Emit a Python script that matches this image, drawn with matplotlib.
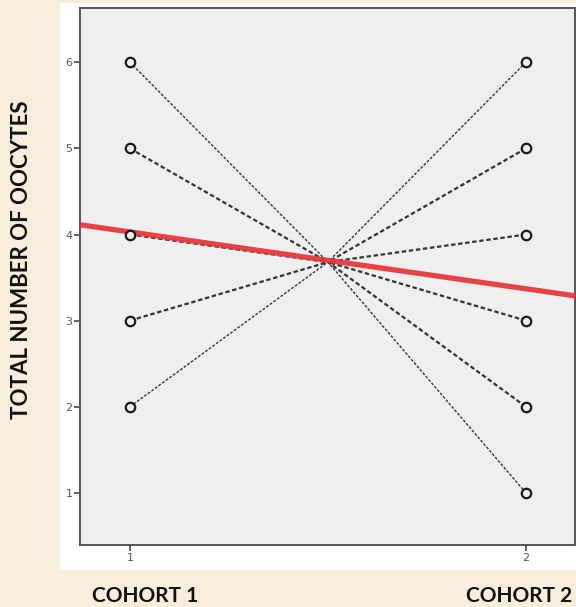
import matplotlib.pyplot as plt
from matplotlib.patches import Rectangle

# values
cohort1_vals = [6, 5, 4, 3, 2]
cohort1_weight = [1, 2, 2, 2, 1]
cohort2_vals = [6, 5, 4, 3, 2, 1]
cohort2_weight = [1, 2, 2, 2, 2, 1]
center = (1.5, 3.68)          # point where the drop lines meet
fit_at_1 = 4.03               # red fit line value at cohort 1
fit_slope = -0.66
x_ticks = [1, 2]
y_ticks = [1, 2, 3, 4, 5, 6]

fig = plt.figure(figsize=(5.76, 6.07), dpi=100)
fig.patch.set_facecolor('#f9eedb')
fig.patches.append(Rectangle((60/576, 1-570/607), 516/576, 567/607,
                             transform=fig.transFigure, facecolor='white',
                             edgecolor='none', zorder=-1))

ax = fig.add_axes([80/576, 1-545/607, 495/576, 537/607])
ax.set_zorder(1)
ax.set_facecolor('#efefef')
ax.set_xlim(0.874, 2.124)
ax.set_ylim(0.395, 6.63)

lw_of = {1: 1.0, 2: 1.6}
for y, w in zip(cohort1_vals, cohort1_weight):
    ax.plot([1, center[0]], [y, center[1]], color='#333333',
            lw=lw_of[w], ls=(0, (2, 1.2)), zorder=2)
for y, w in zip(cohort2_vals, cohort2_weight):
    ax.plot([2, center[0]], [y, center[1]], color='#333333',
            lw=lw_of[w], ls=(0, (2, 1.2)), zorder=2)

ax.axline((1, fit_at_1), slope=fit_slope, color='#e8383d', lw=3.8,
          alpha=0.95, zorder=3)

ax.plot([1]*len(cohort1_vals), cohort1_vals, 'o', ms=6.8, mfc='#efefef',
        mec='#1a1a1a', mew=1.6, zorder=4)
ax.plot([2]*len(cohort2_vals), cohort2_vals, 'o', ms=6.8, mfc='#efefef',
        mec='#1a1a1a', mew=1.6, zorder=4)

ax.set_xticks(x_ticks)
ax.set_yticks(y_ticks)
ax.tick_params(direction='out', length=4, width=1.2, colors='#444',
               labelsize=8, labelcolor='#555', pad=1.5)
for s in ax.spines.values():
    s.set_color('#555')
    s.set_linewidth(1.4)

fig.text(22/576, 1-260/607, 'TOTAL NUMBER OF OOCYTES', rotation=90,
         ha='center', va='center', fontsize=16, fontweight='bold',
         family='Lato', color='#111')
fig.text(145/576, 1-596/607, 'COHORT 1', ha='center', va='center',
         fontsize=15, fontweight='bold', family='Lato', color='#111')
fig.text(519/576, 1-596/607, 'COHORT 2', ha='center', va='center',
         fontsize=15, fontweight='bold', family='Lato', color='#111')

fig.savefig('out.png', dpi=100)
